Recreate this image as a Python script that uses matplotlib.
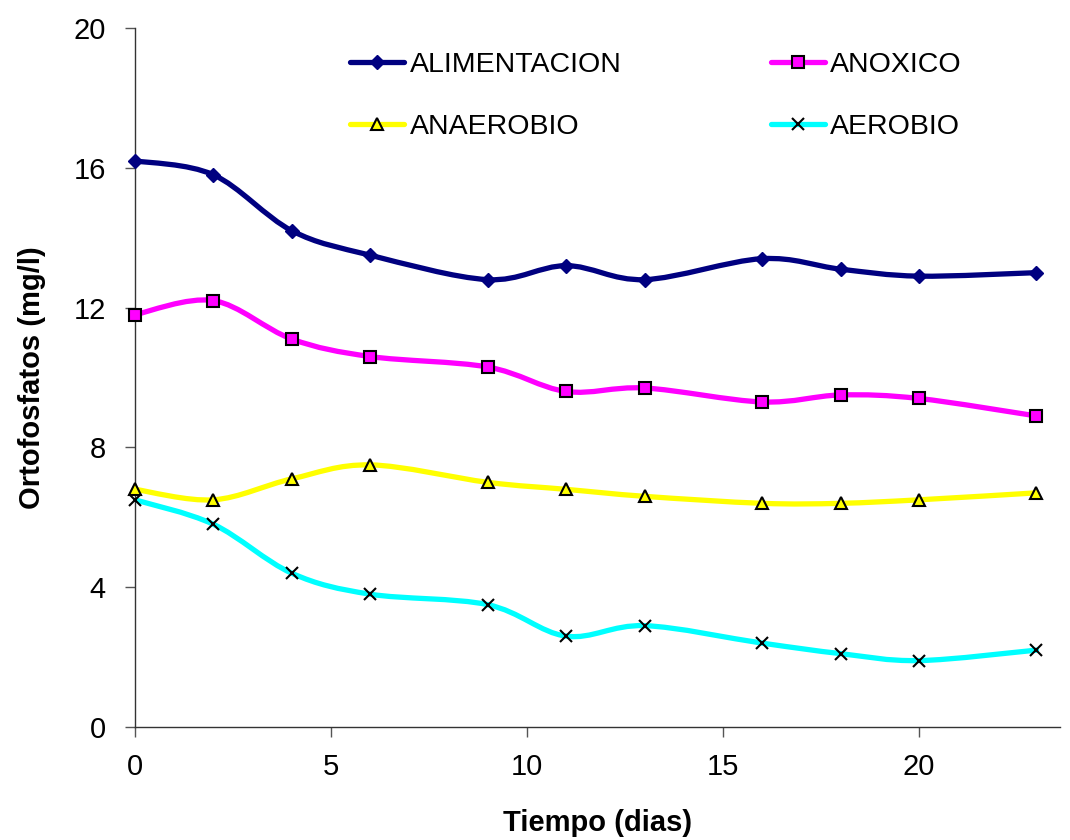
import matplotlib
matplotlib.use("Agg")
import matplotlib.pyplot as plt
from matplotlib.path import Path
from matplotlib.patches import PathPatch
from matplotlib.lines import Line2D
import numpy as np

plt.rcParams['font.family'] = ['Liberation Sans', 'DejaVu Sans']

dias = [0, 2, 4, 6, 9, 11, 13, 16, 18, 20, 23]
alimentacion = [16.2, 15.8, 14.2, 13.5, 12.8, 13.2, 12.8, 13.4, 13.1, 12.9, 13.0]
anoxico = [11.8, 12.2, 11.1, 10.6, 10.3, 9.6, 9.7, 9.3, 9.5, 9.4, 8.9]
anaerobio = [6.8, 6.5, 7.1, 7.5, 7.0, 6.8, 6.6, 6.4, 6.4, 6.5, 6.7]
aerobio = [6.5, 5.8, 4.4, 3.8, 3.5, 2.6, 2.9, 2.4, 2.1, 1.9, 2.2]

series = [
    ("ALIMENTACION", alimentacion, "#000080", dict(marker="D", markersize=7, markerfacecolor="#000080", markeredgecolor="#000080")),
    ("ANOXICO", anoxico, "#FF00FF", dict(marker="s", markersize=9, markerfacecolor="#FF00FF", markeredgecolor="black", markeredgewidth=1.5)),
    ("ANAEROBIO", anaerobio, "#FFFF00", dict(marker="^", markersize=8, markerfacecolor="#FFFF00", markeredgecolor="black", markeredgewidth=1.5)),
    ("AEROBIO", aerobio, "#00FFFF", dict(marker="x", markersize=8, markeredgecolor="black", markeredgewidth=1.5)),
]

fig = plt.figure(figsize=(10.7, 8.4), dpi=100)
ax = fig.add_axes([135/1070, 1-727/840, (1060-135)/1070, (727-28)/840])
ax.set_xlim(0, 23.6)
ax.set_ylim(0, 20)


def smooth_path(xs, ys):
    pts = np.column_stack([xs, ys]).astype(float)
    n = len(pts)
    verts = [pts[0]]
    codes = [Path.MOVETO]
    for i in range(n - 1):
        p0 = pts[i - 1] if i > 0 else pts[i]
        p1 = pts[i]
        p2 = pts[i + 1]
        p3 = pts[i + 2] if i + 2 < n else pts[i + 1]
        c1 = p1 + (p2 - p0) / 6.0
        c2 = p2 - (p3 - p1) / 6.0
        verts += [c1, c2, p2]
        codes += [Path.CURVE4] * 3
    return Path(verts, codes)


handles = {}
for name, vals, col, mk in series:
    patch = PathPatch(smooth_path(dias, vals), facecolor="none", edgecolor=col, lw=3.8,
                      capstyle="round", joinstyle="round", zorder=2)
    ax.add_patch(patch)
    ax.plot(dias, vals, linestyle="none", zorder=3, clip_on=False, **mk)
    handles[name] = Line2D([], [], color=col, lw=3.8, solid_capstyle="round", **mk)

order = ["ALIMENTACION", "ANAEROBIO", "ANOXICO", "AEROBIO"]
ax.legend([handles[k] for k in order], order, ncol=2, loc="upper left",
          bbox_to_anchor=(0.2205, 0.9817), frameon=False, fontsize=20.5,
          handlelength=1.9, handletextpad=0.18, columnspacing=5.25,
          labelspacing=1.27, borderaxespad=0)

ax.set_xticks([0, 5, 10, 15, 20])
ax.set_yticks([0, 4, 8, 12, 16, 20])
ax.tick_params(axis="both", direction="out", length=7, width=1, labelsize=21,
               color="#555555")
ax.tick_params(axis="x", pad=12)
ax.tick_params(axis="y", pad=14)
for s in ["top", "right"]:
    ax.spines[s].set_visible(False)
for s in ["left", "bottom"]:
    ax.spines[s].set_color("#333333")
    ax.spines[s].set_linewidth(1)

ax.set_xlabel("Tiempo (dias)", fontsize=21, fontweight="bold", labelpad=20)
ax.set_ylabel("Ortofosfatos (mg/l)", fontsize=21, fontweight="bold", labelpad=20)

fig.savefig("out.png", dpi=100)
